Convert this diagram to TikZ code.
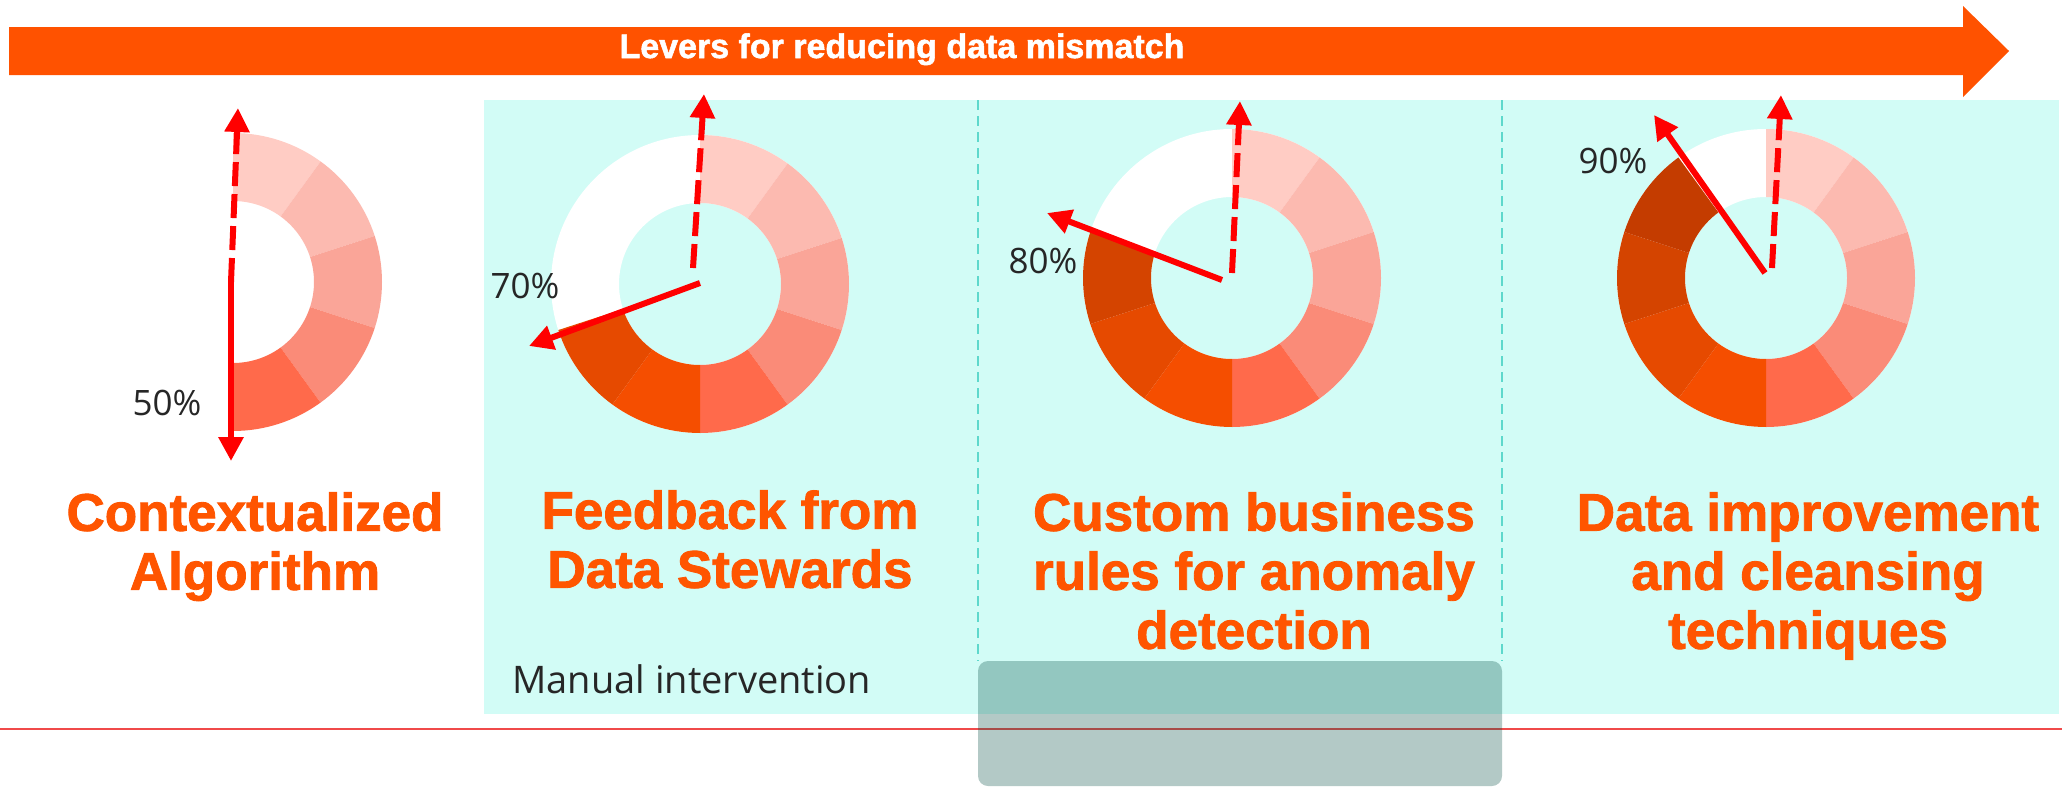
\documentclass[tikz,border=0pt]{standalone}
\usepackage{fontspec}
\setmainfont{Liberation Sans}
\newfontfamily\labfont{Open Sans}
\newfontfamily\heavyfont[FakeBold=1.6]{Liberation Sans Bold}
\usetikzlibrary{arrows.meta}
\definecolor{barorange}{HTML}{FF5200}
\definecolor{titleorange}{HTML}{FF5500}
\definecolor{tealbg}{HTML}{D2FCF6}
\definecolor{divteal}{HTML}{5ED8CC}
\definecolor{boxteal}{HTML}{044F44}
\definecolor{redline}{HTML}{F04A4A}
\definecolor{labgray}{HTML}{262626}
\definecolor{seg1}{HTML}{FFCCC4}
\definecolor{seg2}{HTML}{FCBAB0}
\definecolor{seg3}{HTML}{FAA598}
\definecolor{seg4}{HTML}{FA8B78}
\definecolor{seg5}{HTML}{FF6A4B}
\definecolor{seg6}{HTML}{F54E00}
\definecolor{seg7}{HTML}{E64A00}
\definecolor{seg8}{HTML}{D44400}
\definecolor{seg9}{HTML}{C43C00}
\begin{document}
\begin{tikzpicture}[x=0.5pt,y=-0.5pt,
  valarrow/.style={draw=red, line width=3pt, -{Triangle[width=12pt,length=12pt]}},
  basearrow/.style={draw=red, line width=3pt, dash pattern=on 12pt off 4pt, -{Triangle[width=12pt,length=12pt]}},
  title/.style={text=titleorange, font=\heavyfont\fontsize{26.5pt}{29.5pt}\selectfont, align=center, inner sep=0pt},
  pct/.style={text=labgray, font=\labfont\fontsize{17.5pt}{20pt}\selectfont, inner sep=0pt, anchor=base},
]
\useasboundingbox (0,0) rectangle (2062,787);
\fill[white] (0,0) rectangle (2062,787);
% teal background
\fill[tealbg] (484,100) rectangle (2059,714);
% dividers
\coordinate (d1t) at (978,100); \coordinate (d1b) at (978,661);
\coordinate (d2t) at (1502,100); \coordinate (d2b) at (1502,661);
\draw[divteal, line width=0.6pt, dash pattern=on 5pt off 3pt] (d1t) -- (d1b);
\draw[divteal, line width=0.6pt, dash pattern=on 5pt off 3pt] (d2t) -- (d2b);
% top arrow
\fill[barorange] (9,27) -- (1963,27) -- (1963,6) -- (2009,51) -- (1963,97) -- (1963,75) -- (9,75) -- cycle;
\node[text=white, font=\heavyfont\fontsize{17pt}{20pt}\selectfont, anchor=base, inner sep=0pt] (bartitle) at (902,58) {Levers for reducing data mismatch};
% donuts
\foreach \cx/\cy/\n/\w in {233/282/5/0, 700/284/7/1, 1232/278/8/1, 1766/278/9/1}{
  \ifnum\w=1
    \fill[white, even odd rule] (\cx,\cy) circle[radius=149] (\cx,\cy) circle[radius=81];
  \fi
  \foreach \k in {1,...,\n}{
    \pgfmathsetmacro\aA{36*\k-126}
    \pgfmathsetmacro\aB{36*\k-90}
    \fill[seg\k] ([shift={(\aA:149)}]\cx,\cy) arc[start angle=\aA, end angle=\aB, radius=149]
      -- ([shift={(\aB:81)}]\cx,\cy) arc[start angle=\aB, end angle=\aA, radius=81] -- cycle;
  }
}
% arrows donut 1
\coordinate (c1) at (231,282); \coordinate (b1) at (238,108); \coordinate (v1) at (231,461);
\draw[basearrow] (c1) -- (b1);
\draw[valarrow] (c1) -- (v1);
% donut 2
\coordinate (c2a) at (693,268); \coordinate (b2) at (704,94);
\coordinate (c2) at (700,283); \coordinate (v2) at (529,346);
\draw[basearrow] (c2a) -- (b2);
\draw[valarrow] (c2) -- (v2);
% donut 3
\coordinate (c3a) at (1232,273); \coordinate (b3) at (1240,101);
\coordinate (c3) at (1222,280); \coordinate (v3) at (1047,213);
\draw[basearrow] (c3a) -- (b3);
\draw[valarrow] (c3) -- (v3);
% donut 4
\coordinate (c4a) at (1772,268); \coordinate (b4) at (1781,95);
\coordinate (c4) at (1765,273); \coordinate (v4) at (1654,115);
\draw[basearrow] (c4a) -- (b4);
\draw[valarrow] (c4) -- (v4);
% percentages
\node[pct] (p1) at (167,415) {50\%};
\node[pct] (p2) at (525,298) {70\%};
\node[pct] (p3) at (1043,273) {80\%};
\node[pct] (p4) at (1613,173) {90\%};
% titles
\node[title, anchor=north] (t1) at (255,492) {Contextualized\\Algorithm};
\node[title, anchor=north] (t2) at (730,490) {Feedback from\\Data Stewards};
\node[title, anchor=north] (t3) at (1254,492) {Custom business\\rules for anomaly\\detection};
\node[title, anchor=north] (t4) at (1808,492) {Data improvement\\and cleansing\\techniques};
% manual intervention
\node[text=labgray, font=\labfont\fontsize{19pt}{22pt}\selectfont, anchor=base west, inner sep=0pt] (manual) at (512,693) {Manual intervention};
% red line
\coordinate (rl) at (0,729); \coordinate (rr) at (2062,729);
\draw[redline, line width=1pt] (rl) -- (rr);
% gray box
\fill[boxteal, fill opacity=0.3, rounded corners=5pt] (978,661) rectangle (1502,786);
\end{tikzpicture}
\end{document}
